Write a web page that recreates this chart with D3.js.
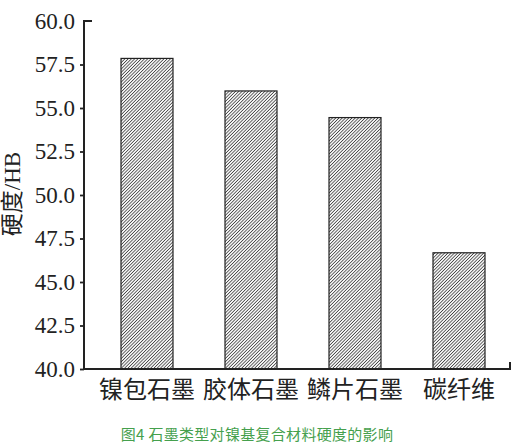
<!DOCTYPE html>
<html>
<head>
<meta charset="utf-8">
<script src="https://cdn.jsdelivr.net/npm/d3@7"></script>
<style>
  body { margin: 0; background: #fff; }
  svg { display: block; }
  .serif { font-family: "Liberation Serif", "Times New Roman", Times, "Noto Sans CJK SC", serif; }
  .cjk { font-family: "Noto Sans CJK SC", sans-serif; }
</style>
</head>
<body>
<svg id="chart"></svg>
<script>
// graphite types and hardness (HB)
const categories = ["镍包石墨", "胶体石墨", "鳞片石墨", "碳纤维"];
const hardness = [57.85, 55.98, 54.45, 46.68];
const yTicks = [40.0, 42.5, 45.0, 47.5, 50.0, 52.5, 55.0, 57.5, 60.0];
const yLabel = "硬度/HB";
const caption = "图4 石墨类型对镍基复合材料硬度的影响";

const width = 521, height = 447;
const svg = d3.select("#chart").attr("width", width).attr("height", height);

const axisLeft = 84, axisRight = 510;
const y = d3.scaleLinear().domain([40, 60]).range([369, 21]);
const x = d3.scaleBand().domain(categories).range([121, 485]).paddingInner(0.5).paddingOuter(0);

// hatch pattern ////
const hs = 2.3;
const pat = svg.append("defs").append("pattern")
    .attr("id", "hatch")
    .attr("patternUnits", "userSpaceOnUse")
    .attr("width", hs).attr("height", hs)
    .attr("patternTransform", "rotate(45)");
pat.append("rect").attr("width", hs).attr("height", hs).attr("fill", "#fff");
pat.append("line")
    .attr("x1", hs / 2).attr("y1", 0).attr("x2", hs / 2).attr("y2", hs)
    .attr("stroke", "#444").attr("stroke-width", 0.85);

// bars
svg.selectAll(".bar")
    .data(hardness)
    .enter().append("rect")
    .attr("class", "bar")
    .attr("x", (d, i) => x(categories[i]))
    .attr("y", d => y(d))
    .attr("width", x.bandwidth())
    .attr("height", d => y(40) - y(d))
    .attr("fill", "url(#hatch)")
    .attr("stroke", "#222")
    .attr("stroke-width", 1.2);

// y axis
const yAxis = svg.append("g")
    .attr("transform", `translate(${axisLeft},0)`)
    .call(d3.axisLeft(y).tickValues(yTicks).tickFormat(d3.format(".1f")).tickSize(4).tickPadding(5));
yAxis.attr("font-family", null).attr("font-size", null);
yAxis.select(".domain").remove();
yAxis.selectAll(".tick line").attr("stroke", "#222").attr("stroke-width", 1.8);
yAxis.selectAll(".tick text")
    .attr("class", "serif")
    .style("font-size", "23px")
    .attr("fill", "#222");
// the top tick is drawn as the end cap instead
yAxis.selectAll(".tick").filter(d => d === 60).select("line").remove();

// axis lines with end caps
svg.append("path")
    .attr("d", `M${axisLeft + 8},${y(60)}H${axisLeft}V${y(40)}H${axisRight}V${y(40) - 7}`)
    .attr("fill", "none")
    .attr("stroke", "#222")
    .attr("stroke-width", 2);

// category labels
svg.selectAll(".cat")
    .data(categories)
    .enter().append("text")
    .attr("class", "cat cjk")
    .attr("x", d => x(d) + x.bandwidth() / 2)
    .attr("y", 398)
    .attr("text-anchor", "middle")
    .style("font-size", "24px")
    .attr("fill", "#222")
    .text(d => d);

// y label
svg.append("text")
    .attr("class", "serif")
    .attr("transform", "translate(20,194) rotate(-90)")
    .attr("text-anchor", "middle")
    .style("font-size", "23px")
    .attr("fill", "#222")
    .text(yLabel);

// caption
svg.append("text")
    .attr("class", "cjk")
    .attr("x", 257)
    .attr("y", 440)
    .attr("text-anchor", "middle")
    .style("font-size", "15px")
    .attr("letter-spacing", 0.3)
    .attr("fill", "#45a04d")
    .text(caption);
</script>
</body>
</html>
